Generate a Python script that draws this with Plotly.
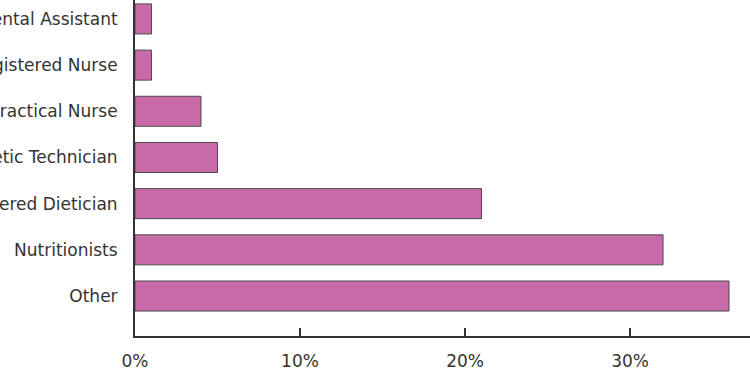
import plotly.graph_objects as go

categories = ["Other", "Nutritionists", "Registered Dietician", "Dietetic Technician",
              "Licensed Practical Nurse", "Registered Nurse", "Dental Assistant"]
values = [36, 32, 21, 5, 4, 1, 1]
tick_vals = [0, 10, 20, 30]
tick_text = ["0%", "10%", "20%", "30%"]

fig = go.Figure(go.Bar(
    y=categories, x=values, orientation="h", width=0.65,
    marker=dict(color="#c96ba9", line=dict(color="#4a4a4a", width=1)),
))

fig.update_layout(
    width=750, height=375,
    margin=dict(l=135, r=0, t=0, b=39),
    paper_bgcolor="white", plot_bgcolor="white",
    font=dict(family="DejaVu Sans", size=17, color="#333333"),
    showlegend=False,
)
fig.update_xaxes(
    range=[0, 37.27], tickvals=tick_vals, ticktext=tick_text,
    showgrid=False, zeroline=False, showline=True, linecolor="#333333", linewidth=2,
    ticks="inside", ticklen=8, tickcolor="#333333", tickwidth=2,
    ticklabelstandoff=9,
)
fig.update_yaxes(
    range=[-0.866, 6.41], automargin=False,
    showgrid=False, zeroline=False, showline=True, linecolor="#333333", linewidth=2,
    ticks="", ticklabelstandoff=12,
)

fig.write_html("out.html")
